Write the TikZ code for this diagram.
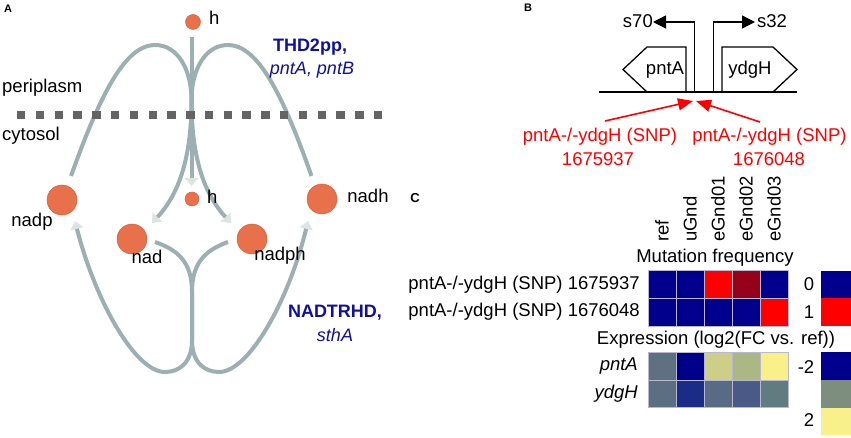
\documentclass[tikz,border=0pt]{standalone}
\usepackage{fontspec}
\setmainfont{Liberation Sans}
\usetikzlibrary{arrows.meta}
\definecolor{curvec}{HTML}{9CB0B2}
\definecolor{tipc}{HTML}{DDE4E2}
\definecolor{metc}{HTML}{E8704B}
\definecolor{metd}{HTML}{D8633F}
\definecolor{rxnc}{HTML}{0F0FA5}
\definecolor{sqc}{HTML}{646464}
\definecolor{hmblue}{HTML}{00008C}
\definecolor{hmred}{HTML}{FF0000}
\definecolor{hmdred}{HTML}{960018}
\definecolor{eA}{HTML}{5E7082}
\definecolor{eB}{HTML}{000088}
\definecolor{eC}{HTML}{CDCF88}
\definecolor{eD}{HTML}{ABB884}
\definecolor{eE}{HTML}{FAF08A}
\definecolor{fA}{HTML}{5C6E82}
\definecolor{fB}{HTML}{1B2B88}
\definecolor{fC}{HTML}{586A84}
\definecolor{fD}{HTML}{4A5A86}
\definecolor{fE}{HTML}{617B80}
\definecolor{lgmid}{HTML}{7E8E7E}
\definecolor{lgyel}{HTML}{F8F08A}
\definecolor{cellline}{HTML}{B8B8D0}
\begin{document}
\begin{tikzpicture}[x=1pt,y=-1pt,font=\fontsize{18.5}{22}\selectfont,
  every node/.style={inner sep=0pt},
  met/.style={circle,fill=metc,draw=metd,line width=0.5pt,inner sep=0pt},
  flux/.style={draw=curvec,line width=4pt},
  fluxtip/.style={flux,-{Triangle[length=8pt,width=13pt,color=tipc]}},
  membr/.style={fill=sqc},
  rxnlab/.style={text=rxnc,font=\fontsize{18}{21}\selectfont\bfseries},
  genelab/.style={text=rxnc,font=\fontsize{18}{21}\selectfont\itshape},
  panel/.style={font=\fontsize{11}{13}\selectfont\bfseries},
  dna/.style={draw=black,line width=1.3pt},
  prom/.style={dna,-{Triangle[length=13pt,width=13pt]}},
  snp/.style={draw=red,line width=1.6pt,-{Triangle[length=15pt,width=12pt]}},
  snptxt/.style={text=red,align=center,font=\fontsize{18.5}{22}\selectfont},
  cell/.style={draw=cellline,line width=0.7pt,minimum width=28pt,minimum height=27.7pt,inner sep=0pt},
  lgcell/.style={minimum width=30pt,minimum height=27.7pt,inner sep=0pt},
  collab/.style={rotate=90,anchor=west}]
\useasboundingbox (0,0) rectangle (851,438);
\fill[white] (0,0) rectangle (851,438);
% ---------------- Panel A ----------------
\node[panel] (labA) at (8,9) {A};
% anchors of the fluxes
\coordinate (nadpOut) at (71,176);
\coordinate (nadhOut) at (311.5,176);
\coordinate (leftTop) at (155,45);
\coordinate (rightTop) at (228,45);
\coordinate (midA) at (191.5,100);
\coordinate (toNadph) at (231,223);
\coordinate (toNad) at (152,223);
\coordinate (hvtop) at (191.5,37);
\coordinate (hvbot) at (191.5,186);
\coordinate (nadOut) at (155,242);
\coordinate (nadphOut) at (228,242);
\coordinate (midB) at (192,292);
\coordinate (midC) at (192,340);
\coordinate (botL) at (165,372);
\coordinate (botR) at (219,372);
\coordinate (toNadp) at (75,221);
\coordinate (toNadh) at (308,221);
% THD2pp
\draw[fluxtip] (nadpOut) .. controls (100,95) and (125,45) .. (leftTop)
  .. controls (178,45) and (191.5,70) .. (midA)
  .. controls (191.5,160) and (205,195) .. (toNadph);
\draw[fluxtip] (nadhOut) .. controls (283,95) and (258,45) .. (rightTop)
  .. controls (205,45) and (191.5,70) .. (midA)
  .. controls (191.5,160) and (178,195) .. (toNad);
\draw[fluxtip] (hvtop) -- (hvbot);
% NADTRHD
\draw[fluxtip] (nadOut) .. controls (178,250) and (192,262) .. (midB) -- (midC)
  .. controls (192,362) and (180,372) .. (botL)
  .. controls (135,372) and (95,300) .. (toNadp);
\draw[fluxtip] (nadphOut) .. controls (206,250) and (192,262) .. (midB) -- (midC)
  .. controls (192,362) and (204,372) .. (botR)
  .. controls (249,372) and (289,300) .. (toNadh);
% membrane
\foreach \i in {0,...,19} \fill[membr] ({17+\i*18.79},110.8) rectangle ++(8.4,8.4);
\node[anchor=west] (peri) at (2,88) {periplasm};
\node[anchor=west] (cyto) at (2,136) {cytosol};
% metabolites
\node[met,minimum size=15pt] (hp) at (193,22) {};
\node[anchor=west] (hpl) at (209,18) {h};
\node[met,minimum size=14pt] (hc) at (192,199) {};
\node[anchor=west] (hcl) at (207,197) {h};
\node[met,minimum size=30pt] (nadp) at (62,200) {};
\node (nadpl) at (32,222) {nadp};
\node[met,minimum size=30pt] (nadh) at (322,199) {};
\node (nadhl) at (368,196) {nadh};
\node[met,minimum size=30pt] (nad) at (132,239) {};
\node (nadl) at (147,257) {nad};
\node[met,minimum size=30pt] (nadph) at (252,239) {};
\node (nadphl) at (280,256) {nadph};
% reaction labels
\node[rxnlab] (thd) at (310,47) {THD2pp,};
\node[genelab] (thdg) at (312,70) {pntA, pntB};
\node[rxnlab] (nadtr) at (335,313) {NADTRHD,};
\node[genelab] (nadtrg) at (335,335) {sthA};
% ---------------- Panel B ----------------
\node[panel] (labB) at (528,8) {B};
\coordinate (dnaL) at (599,92);
\coordinate (dnaR) at (797,92);
\draw[dna] (dnaL) -- (dnaR);
\draw[dna] (647,92) -- (623,69.5) -- (647,47) -- (686,47) -- (686,92);
\draw[dna] (722,92) -- (722,47) -- (773,47) -- (797,69.5) -- (773,92);
\node (pntAg) at (665,70) {pntA};
\node (ydgHg) at (750,70) {ydgH};
\node[anchor=east] (s70) at (653,21) {s70};
\node[anchor=west] (s32) at (757,21) {s32};
\coordinate (p70) at (694.3,92);
\coordinate (p32) at (713.3,92);
\draw[prom] (p70) |- (s70.east |- 0,22);
\draw[prom] (p32) |- ([xshift=-2pt]s32.west |- 0,22);
\coordinate (snpA) at (693,101);
\coordinate (snpB) at (696,101);
\coordinate (snpAs) at (605,121);
\coordinate (snpBs) at (760,122);
\draw[snp] (snpAs) -- (snpA);
\draw[snp] (snpBs) -- (snpB);
\node[snptxt] (snpAt) at (600,137) {pntA-/-ydgH (SNP)};
\node[snptxt] (snpAn) at (598,159) {1675937};
\node[snptxt] (snpBt) at (769.5,137) {pntA-/-ydgH (SNP)};
\node[snptxt] (snpBn) at (769,159) {1676048};
% ---------------- Panel C ----------------
\node[panel,font=\fontsize{13}{15}\selectfont\bfseries] (labC) at (415,198) {C};
\node[collab] (cref) at (662,242) {ref};
\node[collab] (cugnd) at (690,242) {uGnd};
\node[collab] (ce1) at (718,242) {eGnd01};
\node[collab] (ce2) at (746,242) {eGnd02};
\node[collab] (ce3) at (774,242) {eGnd03};
\node (mutt) at (715,258) {Mutation frequency};
\foreach \c [count=\i] in {hmblue,hmblue,hmred,hmdred,hmblue}
  \node[cell,fill=\c] (ma\i) at ({634+28*\i},284.6) {};
\foreach \c [count=\i] in {hmblue,hmblue,hmblue,hmblue,hmred}
  \node[cell,fill=\c] (mb\i) at ({634+28*\i},312.3) {};
\node[anchor=east] (rowA) at (640,284.5) {pntA-/-ydgH (SNP) 1675937};
\node[anchor=east] (rowB) at (640,312) {pntA-/-ydgH (SNP) 1676048};
\node[lgcell,fill=hmblue] (lg0) at (836,284.6) {};
\node[lgcell,fill=hmred] (lg1) at (836,312.3) {};
\node (lg0t) at (809,284) {0};
\node (lg1t) at (809,312) {1};
\node (expt) at (716,340) {Expression (log2(FC vs. ref))};
\foreach \c [count=\i] in {eA,eB,eC,eD,eE}
  \node[cell,fill=\c] (ea\i) at ({634+28*\i},366) {};
\foreach \c [count=\i] in {fA,fB,fC,fD,fE}
  \node[cell,fill=\c] (eb\i) at ({634+28*\i},393.7) {};
\node[anchor=east,font=\fontsize{18.5}{22}\selectfont\itshape] (rpnt) at (638,366) {pntA};
\node[anchor=east,font=\fontsize{18.5}{22}\selectfont\itshape] (rydg) at (638,394) {ydgH};
\node[lgcell,fill=hmblue] (lgm2) at (836,366) {};
\node[lgcell,fill=lgmid] (lgz) at (836,393.7) {};
\node[lgcell,fill=lgyel] (lgp2) at (836,421.4) {};
\node (lgm2t) at (806,367) {-2};
\node (lgp2t) at (809,420) {2};
\end{tikzpicture}
\end{document}
